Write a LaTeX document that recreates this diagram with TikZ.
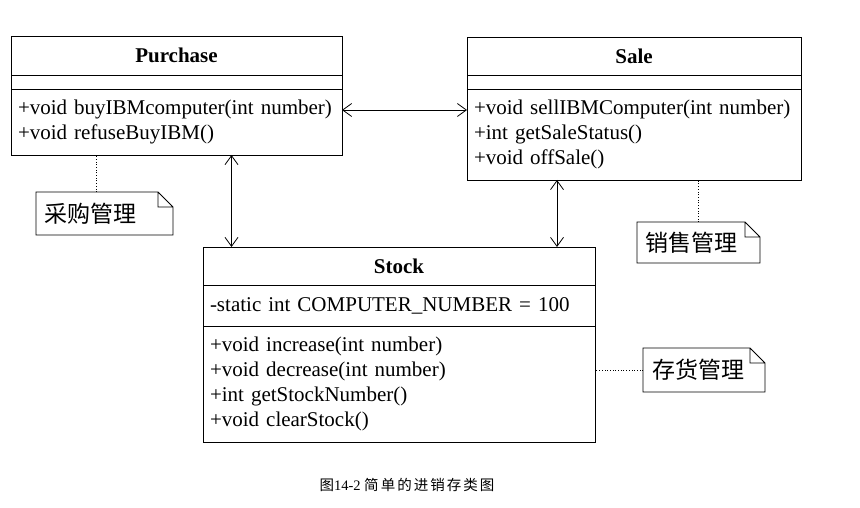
\documentclass[tikz,border=0pt]{standalone}
\usepackage{fontspec}
\setmainfont{Liberation Serif}
\newfontfamily\cjk{Noto Sans CJK SC}
\newfontfamily\cjkcap[LetterSpace=14]{Noto Sans CJK SC}
\usetikzlibrary{positioning,arrows.meta,calc}

\begin{document}
\begin{tikzpicture}[
        x=1pt, y=-1pt,
        node distance=0pt,
        classtitle/.style={rectangle, draw, line width=0.9pt, inner sep=0pt, outer sep=0pt, font=\fontsize{21}{25}\selectfont\bfseries, text centered},
        classpart/.style={rectangle, draw, line width=0.9pt, inner ysep=0pt, inner xsep=7pt, outer sep=0pt, font=\fontsize{21}{25}\selectfont, align=left},
        note/.style={inner ysep=0pt, inner xsep=8pt, outer sep=0pt, align=left, font=\cjk\fontsize{23}{26}\selectfont},
        arrow/.style={draw, {Straight Barb[length=9pt,width=13pt]}-{Straight Barb[length=9pt,width=13pt]}, line width=0.8pt},
        dotline/.style={draw, dotted, line width=0.7pt}
    ]
    \useasboundingbox (0,0) rectangle (860,508);

    % Purchase
    \node [classtitle, anchor=north west, minimum width=331pt, minimum height=39pt] (purchase-title) at (11,36) {Purchase};
    \node [classpart, text width=317pt, minimum height=14pt, below=of purchase-title] (purchase-attr) {};
    \node [classpart, text width=317pt, minimum height=66pt, below=of purchase-attr] (purchase-ops) {+void buyIBMcomputer(int number)\\+void refuseBuyIBM()};

    % Sale
    \node [classtitle, anchor=north west, minimum width=334pt, minimum height=38pt] (sale-title) at (467,37) {Sale};
    \node [classpart, text width=320pt, minimum height=14pt, below=of sale-title] (sale-attr) {};
    \node [classpart, text width=320pt, minimum height=91pt, below=of sale-attr] (sale-ops) {+void sellIBMComputer(int number)\\+int getSaleStatus()\\+void offSale()};

    % Stock
    \node [classtitle, anchor=north west, minimum width=392pt, minimum height=38pt] (stock-title) at (203,247) {Stock};
    \node [classpart, text width=378pt, minimum height=41pt, below=of stock-title] (stock-attr) {-static int COMPUTER\_NUMBER = 100};
    \node [classpart, text width=378pt, minimum height=116pt, below=of stock-attr] (stock-ops) {+void increase(int number)\\+void decrease(int number)\\+int getStockNumber()\\+void clearStock()};

    % notes
    \node [note, anchor=north west, text width=121pt, minimum height=43pt] (purchase-note) at (36,192) {采购管理};
    \node [note, anchor=north west, text width=107pt, minimum height=41pt] (sale-note) at (637,222) {销售管理};
    \node [note, anchor=north west, text width=104pt, minimum height=44pt, inner xsep=9pt] (stock-note) at (643,348) {存货管理};
    \foreach \n in {purchase-note, sale-note, stock-note}
        \draw [line width=0.9pt] (\n.north west) -- ([xshift=-15pt]\n.north east) -- ([yshift=-15pt]\n.north east) -- (\n.south east) -- (\n.south west) -- cycle
              ([xshift=-15pt]\n.north east) |- ([yshift=-15pt]\n.north east);

    \node [font=\fontsize{14.5}{16}\selectfont] (caption) at (407,485) {{\cjkcap 图}14-2 {\cjkcap 简单的进销存类图}};

    \path [arrow] ([yshift=-21pt]purchase-ops.north east) -- ([yshift=-21pt]purchase-ops.north east -| sale-ops.west);
    \path [arrow] ([xshift=55pt]purchase-ops.south) -- ([xshift=55pt]purchase-ops.south |- stock-title.north);
    \path [arrow] ([xshift=-77pt]sale-ops.south) -- ([xshift=-77pt]sale-ops.south |- stock-title.north);

    \path [dotline] ([xshift=-8pt]purchase-note.north) -- ([xshift=-8pt]purchase-note.north |- purchase-ops.south);
    \path [dotline] (sale-note.north) -- (sale-note.north |- sale-ops.south);
    \path [dotline] (stock-note.west) -- (stock-note.west -| stock-ops.east);
\end{tikzpicture}
\end{document}
